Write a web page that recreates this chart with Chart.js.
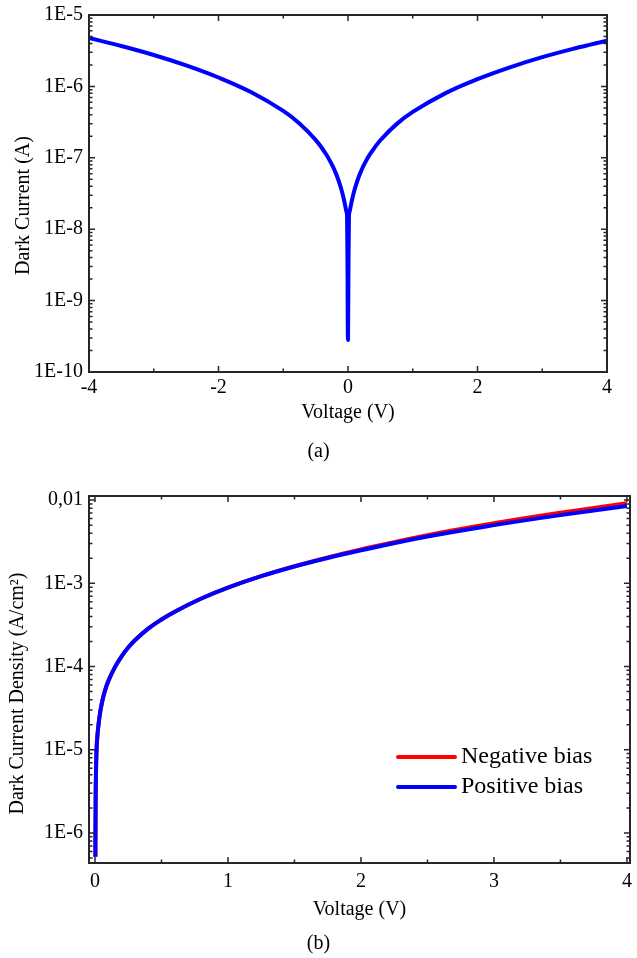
<!DOCTYPE html>
<html>
<head>
<meta charset="utf-8">
<title>Dark current</title>
<script src="https://cdn.jsdelivr.net/npm/chart.js@4.4.1/dist/chart.umd.min.js"></script>
<style>
  html, body { margin: 0; padding: 0; background: #fff; }
  canvas { display: block; }
</style>
</head>
<body>
<canvas id="darkCurrent" width="637" height="470"></canvas>
<canvas id="darkDensity" width="637" height="488"></canvas>
<script>
// (a) dark current over the full bias sweep
const voltageA = [-4, -3.5, -3, -2.5, -2, -1.5, -1, -0.75, -0.5, -0.35, -0.25, -0.2, -0.15, -0.1, -0.06, -0.03, -0.015,
  0, 0.015, 0.03, 0.06, 0.1, 0.15, 0.2, 0.25, 0.35, 0.5, 0.75, 1, 1.5, 2, 2.5, 3, 3.5, 4];
const currentA = [4.76e-6, 3.68e-6, 2.754e-6, 1.97e-6, 1.333e-6, 8.33e-7, 4.54e-7, 3.03e-7, 1.786e-7, 1.167e-7, 8.09e-8, 6.45e-8, 4.93e-8, 3.54e-8, 2.52e-8, 1.848e-8, 1.59e-8,
  2.8e-10, 1.59e-8, 1.848e-8, 2.52e-8, 3.54e-8, 4.93e-8, 6.45e-8, 8.09e-8, 1.159e-7, 1.763e-7, 2.962e-7, 4.4e-7, 7.99e-7, 1.262e-6, 1.847e-6, 2.564e-6, 3.396e-6, 4.365e-6];

// (b) dark current density against |V| for both bias polarities
const voltageB = [0.003, 0.005, 0.008, 0.013, 0.02, 0.03, 0.04, 0.055, 0.075, 0.1, 0.15, 0.2, 0.25, 0.3, 0.4, 0.5,
  0.6, 0.8, 1.0, 1.25, 1.5, 1.75, 2.0, 2.5, 3.0, 3.5, 4.0];
const densityPos = [5.18e-7, 2.51e-6, 5.74e-6, 1.12e-5, 1.596e-5, 2.225e-5, 2.886e-5, 3.86e-5, 5.117e-5, 6.68e-5, 9.83e-5, 1.327e-4, 1.692e-4, 2.067e-4, 2.85e-4, 3.677e-4,
  4.564e-4, 6.575e-4, 8.89e-4, 1.219e-3, 1.594e-3, 2.017e-3, 2.495e-3, 3.65e-3, 5.0e-3, 6.6e-3, 8.47e-3];
const densityNeg = [5.18e-7, 2.51e-6, 5.74e-6, 1.12e-5, 1.596e-5, 2.225e-5, 2.886e-5, 3.86e-5, 5.117e-5, 6.68e-5, 9.83e-5, 1.327e-4, 1.692e-4, 2.067e-4, 2.85e-4, 3.677e-4,
  4.564e-4, 6.575e-4, 8.89e-4, 1.219e-3, 1.607e-3, 2.051e-3, 2.558e-3, 3.794e-3, 5.27e-3, 7.05e-3, 9.2e-3];

// axis ticks and labels
const xTicksA = [-4, -3, -2, -1, 0, 1, 2, 3, 4];
const xTicksB = [0, 0.5, 1, 1.5, 2, 2.5, 3, 3.5, 4];
const yMajorA = [1e-10, 1e-9, 1e-8, 1e-7, 1e-6, 1e-5];
const yLabelsA = ["1E-10", "1E-9", "1E-8", "1E-7", "1E-6", "1E-5"];
const yMajorB = [1e-6, 1e-5, 1e-4, 1e-3, 1e-2];
const yLabelsB = ["1E-6", "1E-5", "1E-4", "1E-3", "0,01"];

const FONT = "'Times New Roman', 'Liberation Serif', serif";
const AXIS_COLOR = "#262626";

// 1..9 x 10^e for every decade in range, clipped to [min, max]
function decadeTicks(fromExp, toExp, min, max) {
  const out = [];
  for (let e = fromExp; e <= toExp; e++) {
    for (let m = 1; m <= 9; m++) {
      const v = Number((m * Math.pow(10, e)).toPrecision(2));
      if (v >= min * 0.999 && v <= max * 1.001) out.push(v);
    }
  }
  return out;
}

function logLabel(majors, labels) {
  return v => {
    const i = majors.findIndex(m => Math.abs(Math.log10(v / m)) < 1e-6);
    return i >= 0 ? labels[i] : "";
  };
}

// frame, inward ticks on all four sides, rotated y title, caption, legend
const frameAndLabels = {
  id: "frameAndLabels",
  afterDatasetsDraw(chart, args, opts) {
    const { ctx, chartArea: area } = chart;
    const { x, y } = chart.scales;
    ctx.save();
    ctx.strokeStyle = AXIS_COLOR;
    ctx.lineWidth = 1.5;
    ctx.beginPath();
    x.ticks.forEach(t => {
      const px = x.getPixelForValue(t.value);
      const len = t.label ? 6 : 3.5;
      ctx.moveTo(px, area.bottom);
      ctx.lineTo(px, area.bottom - len);
      ctx.moveTo(px, area.top);
      ctx.lineTo(px, area.top + len);
    });
    y.ticks.forEach(t => {
      const py = y.getPixelForValue(t.value);
      const len = t.label ? 6 : 3.5;
      ctx.moveTo(area.left, py);
      ctx.lineTo(area.left + len, py);
      ctx.moveTo(area.right, py);
      ctx.lineTo(area.right - len, py);
    });
    ctx.stroke();
    ctx.lineWidth = 2;
    ctx.strokeRect(area.left, area.top, area.width, area.height);

    ctx.fillStyle = "#000";
    ctx.textBaseline = "middle";
    ctx.textAlign = "center";
    ctx.font = "20px " + FONT;

    ctx.save();
    ctx.translate(opts.yTitleX, (area.top + area.bottom) / 2 + opts.yTitleShift);
    ctx.rotate(-Math.PI / 2);
    ctx.fillText(opts.yTitle, 0, 0);
    ctx.restore();

    ctx.fillText(opts.caption, chart.width / 2, area.bottom + opts.captionOffset);

    if (opts.legend) {
      ctx.font = "24px " + FONT;
      ctx.textAlign = "left";
      chart.data.datasets.forEach((ds, i) => {
        const ly = area.bottom - opts.legend.bottom + i * opts.legend.rowGap;
        ctx.strokeStyle = ds.borderColor;
        ctx.lineWidth = 4;
        ctx.lineCap = "round";
        ctx.beginPath();
        ctx.moveTo(area.right - opts.legend.right, ly);
        ctx.lineTo(area.right - opts.legend.right + 57, ly);
        ctx.stroke();
        ctx.fillText(ds.label, area.right - opts.legend.right + 63, ly);
      });
    }
    ctx.restore();
  }
};

function axisX(min, max, tickValues, label, height, tickPad, titlePad) {
  return {
    type: "linear",
    min: min,
    max: max,
    bounds: "data",
    afterBuildTicks: s => { s.ticks = tickValues.map(v => ({ value: v })); },
    afterFit: s => { s.height = height; s.paddingLeft = 0; s.paddingRight = 0; },
    grid: { display: false, drawTicks: false },
    border: { display: false },
    ticks: { padding: tickPad, color: "#000", font: { family: FONT, size: 20 }, autoSkip: false, maxRotation: 0, callback: label },
    title: { display: true, text: "Voltage (V)", color: "#000", font: { family: FONT, size: 20 }, padding: { top: 0, bottom: titlePad } }
  };
}

function axisY(min, max, tickValues, label, tickPad) {
  return {
    type: "logarithmic",
    min: min,
    max: max,
    bounds: "data",
    afterBuildTicks: s => { s.ticks = tickValues.map(v => ({ value: v })); },
    afterFit: s => { s.width = 89; s.paddingTop = 0; s.paddingBottom = 0; },
    grid: { display: false, drawTicks: false },
    border: { display: false },
    ticks: { padding: tickPad, color: "#000", font: { family: FONT, size: 20 }, autoSkip: false, callback: label }
  };
}

const common = {
  responsive: false,
  animation: false,
  events: [],
  plugins: { legend: { display: false }, tooltip: { enabled: false }, title: { display: false } }
};

new Chart(document.getElementById("darkCurrent"), {
  type: "line",
  data: {
    datasets: [{
      label: "Dark current",
      data: voltageA.map((v, i) => ({ x: v, y: currentA[i] })),
      borderColor: "#0000ff",
      borderWidth: 4,
      pointRadius: 0,
      tension: 0.4
    }]
  },
  options: {
    ...common,
    layout: { padding: { left: 0, right: 30, top: 15, bottom: 31 } },
    scales: {
      x: axisX(-4, 4, xTicksA, v => (v % 2 === 0 ? String(v) : ""), 67, 4, 14.6),
      y: axisY(1e-10, 1e-5, decadeTicks(-10, -5, 1e-10, 1e-5), logLabel(yMajorA, yLabelsA), 6)
    },
    plugins: {
      ...common.plugins,
      frameAndLabels: { yTitle: "Dark Current (A)", yTitleX: 24, yTitleShift: 12, caption: "(a)", captionOffset: 80 }
    }
  },
  plugins: [frameAndLabels]
});

new Chart(document.getElementById("darkDensity"), {
  type: "line",
  data: {
    datasets: [
      {
        label: "Negative bias",
        data: voltageB.map((v, i) => ({ x: v, y: densityNeg[i] })),
        borderColor: "#ff0000",
        borderWidth: 4,
        pointRadius: 0,
        tension: 0.4,
        order: 1
      },
      {
        label: "Positive bias",
        data: voltageB.map((v, i) => ({ x: v, y: densityPos[i] })),
        borderColor: "#0000ff",
        borderWidth: 4,
        pointRadius: 0,
        tension: 0.4,
        order: 0
      }
    ]
  },
  options: {
    ...common,
    layout: { padding: { left: 0, right: 7, top: 26, bottom: 35 } },
    scales: {
      x: axisX(-0.045, 4.023, xTicksB, v => (Number.isInteger(v) ? String(v) : ""), 60, 7, 1.6),
      y: axisY(4.36e-7, 0.0112, decadeTicks(-7, -2, 4.36e-7, 0.0112), logLabel(yMajorB, yLabelsB), 6)
    },
    plugins: {
      ...common.plugins,
      frameAndLabels: {
        yTitle: "Dark Current Density (A/cm\u00b2)", yTitleX: 18, yTitleShift: 14,
        caption: "(b)", captionOffset: 81,
        legend: { right: 232, bottom: 106, rowGap: 30 }
      }
    }
  },
  plugins: [frameAndLabels]
});
</script>
</body>
</html>
